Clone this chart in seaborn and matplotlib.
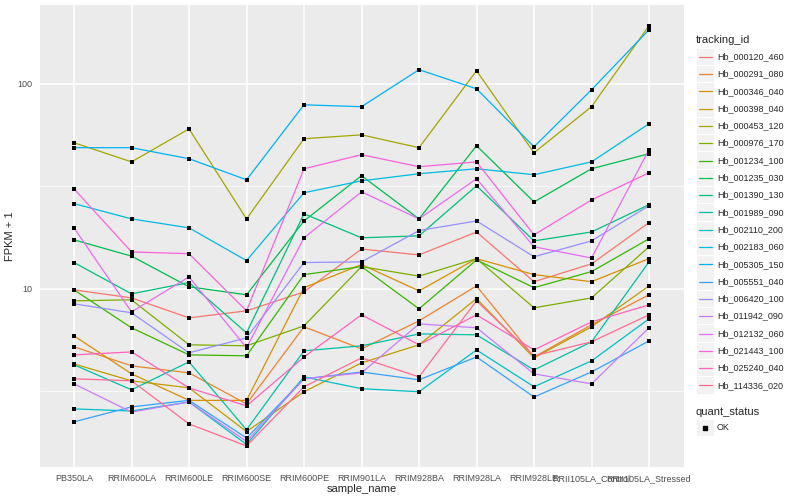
import matplotlib
matplotlib.use("Agg")
import matplotlib.pyplot as plt
from matplotlib.lines import Line2D
from matplotlib.patches import Rectangle
from matplotlib.ticker import FixedLocator, NullFormatter
import numpy as np
import pandas as pd
import seaborn as sns

# sample order on the x axis
samples = ["PB350LA", "RRIM600LA", "RRIM600LE", "RRIM600SE", "RRIM600PE", "RRIM901LA",
           "RRIM928BA", "RRIM928LA", "RRIM928LE", "RRII105LA_Control", "RRII105LA_Stressed"]

tracking_ids = ["Hb_000120_460", "Hb_000291_080", "Hb_000346_040", "Hb_000398_040",
                "Hb_000453_120", "Hb_000976_170", "Hb_001234_100", "Hb_001235_030",
                "Hb_001390_130", "Hb_001989_090", "Hb_002110_200", "Hb_002183_060",
                "Hb_005305_150", "Hb_005551_040", "Hb_006420_100", "Hb_011942_090",
                "Hb_012132_060", "Hb_021443_100", "Hb_025240_040", "Hb_114336_020"]

# FPKM + 1 per gene, one value per sample
hb_000120_460 = [9.85, 9.0, 7.19, 7.78, 9.63, 15.6, 14.6, 18.9, 10.8, 13.2, 21.0]
hb_000291_080 = [5.19, 4.19, 3.87, 2.73, 6.50, 5.07, 6.95, 10.3, 4.63, 6.65, 9.32]
hb_000346_040 = [5.87, 3.83, 2.84, 2.84, 10.1, 13.1, 9.74, 14.0, 11.7, 10.8, 14.0]
hb_000398_040 = [4.28, 3.54, 3.27, 2.00, 3.13, 4.33, 5.31, 8.93, 4.58, 6.50, 10.3]
hb_000453_120 = [51.6, 41.6, 60.3, 21.9, 54.0, 56.4, 48.8, 116.0, 46.1, 77.4, 192.6]
hb_000976_170 = [8.71, 8.81, 5.31, 5.25, 6.57, 12.8, 11.5, 14.0, 8.05, 9.0, 16.0]
hb_001234_100 = [9.85, 6.43, 4.74, 4.69, 11.7, 12.8, 7.96, 13.8, 10.1, 12.1, 17.5]
hb_001235_030 = [17.3, 14.4, 10.2, 9.32, 21.4, 35.6, 21.9, 49.9, 26.5, 38.5, 45.6]
hb_001390_130 = [13.4, 9.42, 10.7, 6.07, 23.2, 17.7, 18.1, 31.8, 17.1, 18.9, 25.7]
hb_001989_090 = [4.24, 3.20, 4.38, 2.04, 4.96, 5.25, 6.00, 5.94, 4.00, 5.49, 13.5]
hb_002110_200 = [2.58, 2.52, 2.79, 1.73, 3.70, 3.24, 3.13, 5.01, 3.31, 4.43, 7.11]
hb_002183_060 = [26.0, 21.9, 19.8, 13.7, 29.4, 33.6, 36.4, 38.5, 36.0, 41.6, 63.9]
hb_005305_150 = [48.8, 48.8, 43.1, 34.0, 79.1, 77.4, 117.4, 94.7, 49.3, 93.7, 184.1]
hb_005551_040 = [2.23, 2.64, 2.84, 1.86, 3.62, 3.91, 3.58, 4.63, 2.95, 3.91, 5.55]
hb_006420_100 = [8.42, 7.61, 4.85, 5.74, 13.4, 13.5, 19.2, 21.4, 14.3, 17.1, 25.4]
hb_011942_090 = [3.42, 2.49, 2.79, 1.79, 3.62, 3.87, 6.72, 6.43, 3.83, 3.42, 6.43]
hb_012132_060 = [19.8, 7.69, 11.4, 5.13, 17.7, 29.7, 21.9, 34.4, 16.0, 14.1, 47.7]
hb_021443_100 = [30.7, 15.1, 14.8, 7.78, 38.5, 45.1, 39.4, 41.6, 18.3, 27.1, 36.8]
hb_025240_040 = [4.74, 4.90, 3.27, 2.67, 4.63, 7.44, 5.31, 7.44, 5.01, 6.87, 8.32]
hb_114336_020 = [3.62, 3.54, 2.18, 1.70, 3.31, 4.58, 3.70, 8.71, 4.69, 5.49, 7.44]

series = [hb_000120_460, hb_000291_080, hb_000346_040, hb_000398_040, hb_000453_120,
          hb_000976_170, hb_001234_100, hb_001235_030, hb_001390_130, hb_001989_090,
          hb_002110_200, hb_002183_060, hb_005305_150, hb_005551_040, hb_006420_100,
          hb_011942_090, hb_012132_060, hb_021443_100, hb_025240_040, hb_114336_020]

# ggplot2 default hue palette for 20 levels
colors = ["#F8766D", "#EA8331", "#D89000", "#C09B00", "#A3A500", "#7CAE00", "#39B600",
          "#00BB4E", "#00BF7D", "#00C1A3", "#00BFC4", "#00BAE0", "#00B0F6", "#35A2FF",
          "#9590FF", "#C77CFF", "#E76BF3", "#FA62DB", "#FF62BC", "#FF6C91"]

rows = []
for tid, vals in zip(tracking_ids, series):
    for s, v in zip(samples, vals):
        rows.append({"sample_name": s, "tracking_id": tid, "FPKM + 1": v, "quant_status": "OK"})
df = pd.DataFrame(rows)
df["sample_name"] = pd.Categorical(df["sample_name"], categories=samples, ordered=True)

sns.set_style("darkgrid", {"axes.facecolor": "#EBEBEB", "grid.color": "white"})
plt.rcParams["font.family"] = ["Liberation Sans", "DejaVu Sans"]

fig = plt.figure(figsize=(8, 5), dpi=100)
ax = fig.add_axes([0.0494, 0.066, 0.805, 0.9246])
ax.set_yscale("log")

sns.lineplot(data=df, x="sample_name", y="FPKM + 1", hue="tracking_id",
             hue_order=tracking_ids, palette=colors, sort=False, estimator=None,
             linewidth=0.9, legend=False, ax=ax)
sns.scatterplot(data=df, x="sample_name", y="FPKM + 1", color="black", marker="s",
                s=9, linewidth=0, legend=False, ax=ax, zorder=3)

# ggplot-like limits: 0.6 units on a discrete axis, 5% in log space
ax.set_xlim(-0.6, len(samples) - 0.4)
lo, hi = np.log10(df["FPKM + 1"].min()), np.log10(df["FPKM + 1"].max())
pad = (hi - lo) * 0.05
ax.set_ylim(10 ** (lo - pad), 10 ** (hi + pad))

ax.set_yticks([10, 100])
ax.set_yticklabels(["10", "100"])
ax.yaxis.set_minor_locator(FixedLocator([10 ** 0.5, 10 ** 1.5]))
ax.yaxis.set_minor_formatter(NullFormatter())
ax.grid(which="major", color="white", linewidth=1.1)
ax.grid(which="minor", axis="y", color="white", linewidth=0.5)
ax.tick_params(which="major", length=3, width=0.6, color="#333333", labelsize=6.5,
               labelcolor="#4D4D4D", pad=2)
ax.tick_params(which="minor", length=0)
for sp in ax.spines.values():
    sp.set_visible(False)
ax.set_xlabel("sample_name", fontsize=8, labelpad=1)
ax.set_ylabel("FPKM + 1", fontsize=8, labelpad=2)

# legends drawn by hand in pixel units of the 800x500 canvas
W, H = 800.0, 500.0
fig.text(696 / W, 1 - 40 / H, "tracking_id", fontsize=8, va="center", ha="left")
for i, (tid, col) in enumerate(zip(tracking_ids, colors)):
    yc = 56.7 + i * 17.3
    fig.patches.append(Rectangle((697 / W, 1 - (yc + 8.2) / H), 16.5 / W, 16.4 / H,
                                 transform=fig.transFigure, facecolor="#F2F2F2",
                                 edgecolor="none"))
    fig.lines.append(Line2D([698.5 / W, 712 / W], [1 - yc / H, 1 - yc / H],
                            transform=fig.transFigure, color=col, linewidth=0.9))
    fig.text(717 / W, 1 - yc / H, tid, fontsize=6.5, va="center", ha="left")

fig.text(696 / W, 1 - 412 / H, "quant_status", fontsize=8, va="center", ha="left")
yc = 428
fig.patches.append(Rectangle((697 / W, 1 - (yc + 8.2) / H), 16.5 / W, 16.4 / H,
                             transform=fig.transFigure, facecolor="#F2F2F2",
                             edgecolor="none"))
fig.lines.append(Line2D([705.2 / W], [1 - yc / H], transform=fig.transFigure,
                        color="black", marker="s", markersize=3, linestyle="none"))
fig.text(717 / W, 1 - yc / H, "OK", fontsize=6.5, va="center", ha="left")

fig.savefig("out.png", dpi=100)
